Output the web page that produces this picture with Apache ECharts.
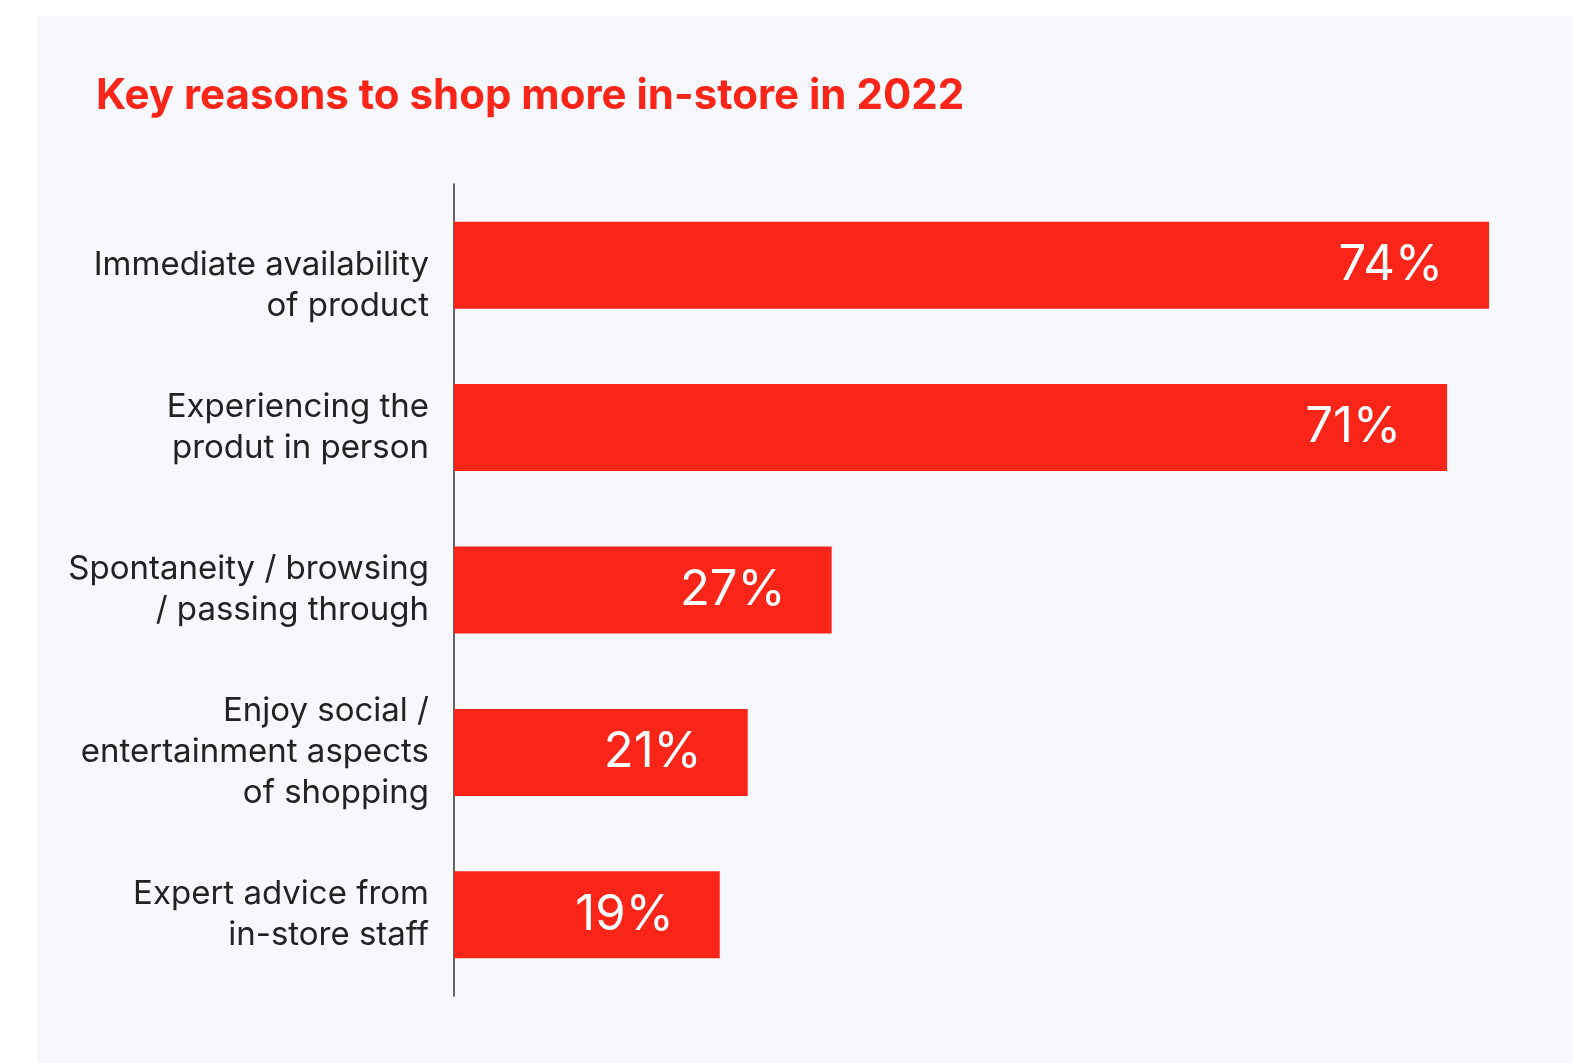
<!DOCTYPE html>
<html>
<head>
<meta charset="utf-8">
<script src="https://cdn.jsdelivr.net/npm/echarts@6/dist/echarts.min.js"></script>
<style>
  html, body { margin: 0; padding: 0; background: #ffffff; }
  #chart { width: 1573px; height: 1063px; }
</style>
</head>
<body>
<div id="chart"></div>
<script>
// Reasons, top to bottom
const categories = [
  'Immediate availability\nof product',
  'Experiencing the\nprodut in person',
  'Spontaneity / browsing\n/ passing through',
  'Enjoy social /\nentertainment aspects\nof shopping',
  'Expert advice from\nin-store staff'
];
// Share of respondents, percent
const shares = [74, 71, 27, 21, 19];

const RED = '#fa2519';
const FONT = 'Inter, sans-serif';
const chart = echarts.init(document.getElementById('chart'), null, { renderer: 'canvas' });

chart.setOption({
  backgroundColor: '#ffffff',
  animation: false,
  graphic: [{
    type: 'rect',
    z: -10,
    silent: true,
    shape: { x: 37, y: 16, width: 1536, height: 1047 },
    style: { fill: '#f7f8fc' }
  }],
  title: {
    text: 'Key reasons to shop more in-store in 2022',
    left: 91,
    top: 70,
    textStyle: {
      color: RED,
      fontSize: 42,
      fontWeight: 'bold',
      fontFamily: FONT
    }
  },
  grid: {
    left: 454,
    top: 184,
    width: 1123,
    height: 812,
    containLabel: false
  },
  xAxis: {
    type: 'value',
    min: 0,
    max: 80,
    show: false
  },
  yAxis: {
    type: 'category',
    inverse: true,
    data: categories,
    axisLine: { show: true, lineStyle: { color: '#333333', width: 1.5 } },
    axisTick: { show: false },
    axisLabel: {
      margin: 25,
      color: '#222222',
      fontSize: 33,
      lineHeight: 41,
      align: 'right',
      fontFamily: FONT,
      // the first reason hangs half a line lower than its bar
      formatter: (value, index) => (index === 0 ? '\n' + value : value)
    }
  },
  series: [{
    type: 'bar',
    data: shares,
    barWidth: 87,
    itemStyle: { color: RED },
    label: {
      show: true,
      position: 'insideRight',
      distance: 46,
      formatter: '{c}%',
      color: '#ffffff',
      fontSize: 49,
      fontFamily: FONT
    }
  }]
});
</script>
</body>
</html>
